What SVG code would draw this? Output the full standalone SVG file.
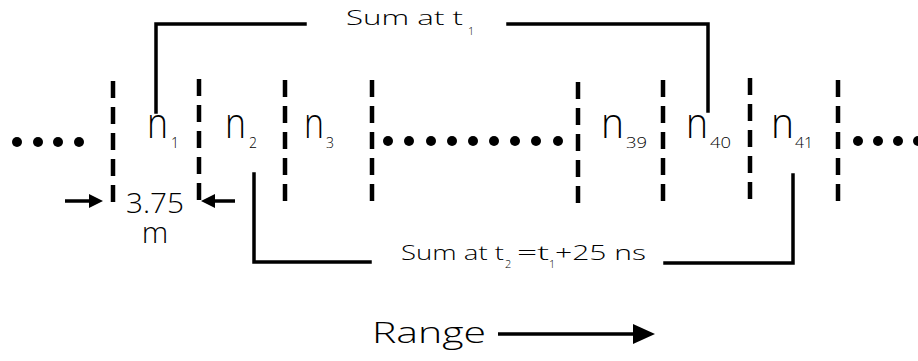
<svg xmlns="http://www.w3.org/2000/svg" width="918" height="361" viewBox="0 0 918 361">
<defs>
<style>
.t{font-family:"Open Sans","DejaVu Sans","Liberation Sans",sans-serif;font-weight:300;fill:#000}
.dash{stroke:#000;stroke-width:4.5;stroke-dasharray:17 9;fill:none}
.br{stroke:#000;stroke-width:3.5;fill:none;stroke-linecap:square}
.dot{fill:#000}
.ar{stroke:#000;stroke-width:3.5;fill:none}
</style>
<circle id="d" r="5" class="dot"/>
</defs>
<rect width="918" height="361" fill="#fff"/>

<g id="dividers">
<line class="dash" x1="113" y1="81" x2="113" y2="203"/>
<line class="dash" x1="199" y1="79" x2="199" y2="203"/>
<line class="dash" x1="285" y1="80" x2="285" y2="203"/>
<line class="dash" x1="372" y1="80" x2="372" y2="203"/>
<line class="dash" x1="578" y1="82" x2="578" y2="203"/>
<line class="dash" x1="663" y1="80" x2="663" y2="203"/>
<line class="dash" x1="750" y1="78" x2="750" y2="203"/>
<line class="dash" x1="838" y1="80" x2="838" y2="203"/>
</g>

<g id="dots-left">
<use href="#d" x="17" y="142"/><use href="#d" x="38" y="142"/><use href="#d" x="58" y="142"/><use href="#d" x="79" y="142"/>
</g>
<g id="dots-mid">
<use href="#d" x="388" y="141"/><use href="#d" x="409" y="141"/><use href="#d" x="431" y="141"/><use href="#d" x="452" y="141"/><use href="#d" x="473" y="141"/><use href="#d" x="494" y="141"/><use href="#d" x="515" y="141"/><use href="#d" x="536" y="141"/><use href="#d" x="558" y="141"/>
</g>
<g id="dots-right">
<use href="#d" x="858" y="141"/><use href="#d" x="878" y="141"/><use href="#d" x="898" y="141"/><use href="#d" x="918" y="141"/>
</g>

<g id="n1"><text class="t" x="147" y="138" font-size="42" textLength="21" lengthAdjust="spacingAndGlyphs">n</text><text class="t" x="171" y="148" font-size="14">1</text></g>
<g id="n2"><text class="t" x="225" y="138" font-size="42" textLength="21" lengthAdjust="spacingAndGlyphs">n</text><text class="t" x="249" y="148" font-size="14">2</text></g>
<g id="n3"><text class="t" x="304" y="138" font-size="42" textLength="20" lengthAdjust="spacingAndGlyphs">n</text><text class="t" x="326" y="148" font-size="14">3</text></g>
<g id="n39"><text class="t" x="601" y="138" font-size="42" textLength="23" lengthAdjust="spacingAndGlyphs">n</text><text class="t" x="626" y="148" font-size="14" textLength="21" lengthAdjust="spacingAndGlyphs">39</text></g>
<g id="n40"><text class="t" x="686" y="138" font-size="42" textLength="22" lengthAdjust="spacingAndGlyphs">n</text><text class="t" x="710" y="148" font-size="14" textLength="21" lengthAdjust="spacingAndGlyphs">40</text></g>
<g id="n41"><text class="t" x="771" y="138" font-size="42" textLength="23" lengthAdjust="spacingAndGlyphs">n</text><text class="t" x="795" y="148" font-size="14" textLength="18" lengthAdjust="spacingAndGlyphs">41</text></g>

<g id="connectors">
<polyline class="br" points="156,112 156,24 305,24"/>
<polyline class="br" points="508,24 708,24 708,111"/>
<polyline class="br" points="254,174 254,262 370,262"/>
<polyline class="br" points="665,263 793,263 793,175"/>
</g>

<g id="label-t1">
<text class="t" x="346" y="25" font-size="21" textLength="117" lengthAdjust="spacingAndGlyphs">Sum at t</text>
<text class="t" x="468" y="35" font-size="11">1</text>
</g>
<g id="label-t2">
<text class="t" x="401" y="260" font-size="21" textLength="103" lengthAdjust="spacingAndGlyphs">Sum at t</text>
<text class="t" x="505" y="268" font-size="11">2</text>
<text class="t" x="517" y="260" font-size="21" textLength="32" lengthAdjust="spacingAndGlyphs">=t</text>
<text class="t" x="549" y="268" font-size="11">1</text>
<text class="t" x="555" y="260" font-size="21" textLength="91" lengthAdjust="spacingAndGlyphs">+25 ns</text>
</g>

<g id="width-dim">
<line class="ar" x1="65" y1="201" x2="90" y2="201"/>
<polygon points="103,201 89,194 89,208" fill="#000"/>
<line class="ar" x1="212" y1="201" x2="235" y2="201"/>
<polygon points="201,201 215,194 215,208" fill="#000"/>
<text class="t" x="126" y="213" font-size="27" textLength="58" lengthAdjust="spacingAndGlyphs">3.75</text>
<text class="t" x="155" y="243" font-size="30" text-anchor="middle">m</text>
</g>

<g id="range">
<text class="t" x="372" y="343" font-size="29" textLength="114" lengthAdjust="spacingAndGlyphs">Range</text>
<line class="ar" x1="498" y1="334" x2="636" y2="334" stroke-width="4"/>
<polygon points="655,334 633,324 633,344" fill="#000"/>
</g>
</svg>
